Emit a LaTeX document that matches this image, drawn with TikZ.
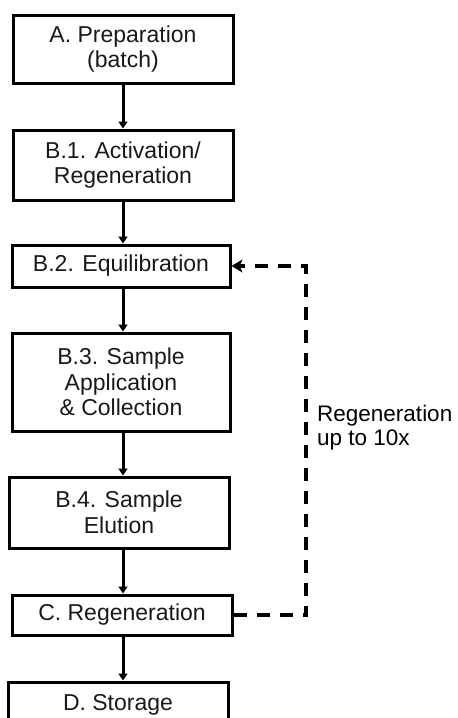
\documentclass[tikz,border=0pt]{standalone}
\usepackage{fontspec}
\setmainfont{Liberation Sans}
\usetikzlibrary{arrows.meta,calc}
\begin{document}
\begin{tikzpicture}[x=1pt,y=-1pt,
  stepbox/.style={draw=black,line width=3pt,align=center,inner sep=0pt,
    font=\fontsize{23}{25.5}\selectfont,text=black!90},
  flow/.style={line width=3pt,-{Triangle[length=7pt,width=9pt]}},
  loopline/.style={line width=4pt,dash pattern=on 13pt off 10pt,
    -{Stealth[length=11pt,width=13pt,inset=3pt]}}]
\useasboundingbox (0,0) rectangle (458,718);
\node[stepbox,minimum width=220pt,minimum height=68pt] (A) at (123,49) {A. Preparation\\(batch)};
\node[stepbox,minimum width=220pt,minimum height=70pt] (B1) at (123,165) {B.1. Activation/\\Regeneration};
\node[stepbox,minimum width=218pt,minimum height=42pt] (B2) at (121,266) {B.2. Equilibration};
\node[stepbox,minimum width=218pt,minimum height=98pt] (B3) at (121,382) {B.3. Sample\\Application\\\& Collection};
\node[stepbox,minimum width=220pt,minimum height=71pt] (B4) at (119,512.5) {B.4. Sample\\Elution};
\node[stepbox,minimum width=220pt,minimum height=40pt] (C) at (122,615) {C. Regeneration};
\node[stepbox,minimum width=220pt,minimum height=46pt] (D) at (118,705) {D. Storage};
\coordinate (ax) at (123,0);
\draw[flow] (A.south -| ax) -- (B1.north -| ax);
\draw[flow] (B1.south -| ax) -- (B2.north -| ax);
\draw[flow] (B2.south -| ax) -- (B3.north -| ax);
\draw[flow] (B3.south -| ax) -- (B4.north -| ax);
\draw[flow] (B4.south -| ax) -- (C.north -| ax);
\draw[flow] (C.south -| ax) -- (D.north -| ax);
\coordinate (loop) at (306,440);
\draw[loopline] (C.east) -- (C.east -| loop) -- (loop |- B2.east) -- (B2.east);
\node[anchor=north west,align=left,inner sep=0pt,
  font=\fontsize{22.5}{23.5}\selectfont,text=black] (lbl) at (317,405) {Regeneration\\up to 10x};
\end{tikzpicture}
\end{document}
